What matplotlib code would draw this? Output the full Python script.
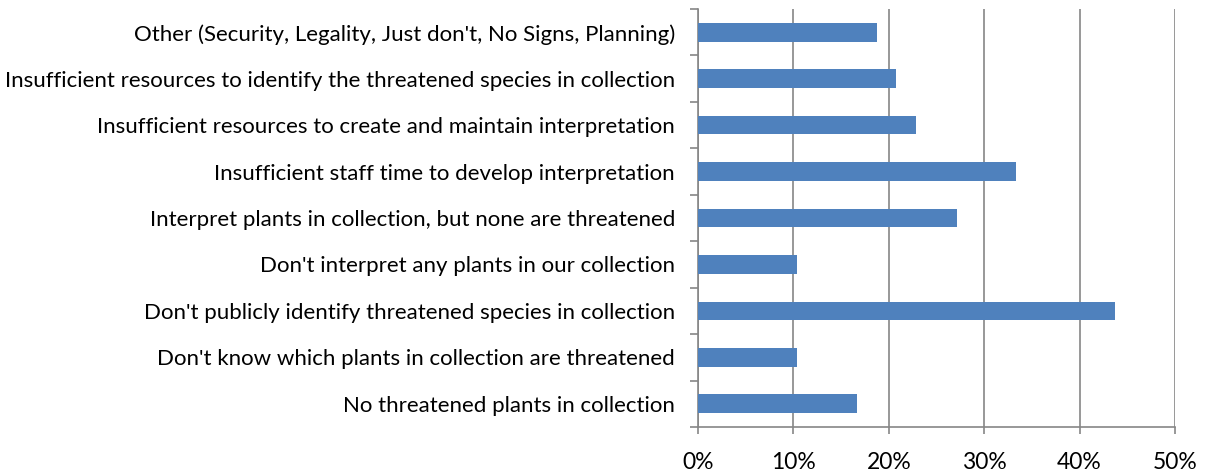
import matplotlib.pyplot as plt
import numpy as np
from matplotlib.ticker import FixedLocator, PercentFormatter

categories = [
    "No threatened plants in collection",
    "Don't know which plants in collection are threatened",
    "Don't publicly identify threatened species in collection",
    "Don't interpret any plants in our collection",
    "Interpret plants in collection, but none are threatened",
    "Insufficient staff time to develop interpretation",
    "Insufficient resources to create and maintain interpretation",
    "Insufficient resources to identify the threatened species in collection",
    "Other (Security, Legality, Just don't, No Signs, Planning)",
]
values = [16.7, 10.4, 43.75, 10.4, 27.1, 33.3, 22.9, 20.8, 18.75]
xticks = [0, 10, 20, 30, 40, 50]

plt.rcParams['font.family'] = ['Lato', 'DejaVu Sans']

fig = plt.figure(figsize=(12.19, 4.75), dpi=100)
ax = fig.add_axes([0.5726, 0.1011, 0.3913, 0.8799])

y = np.arange(len(categories))
ax.barh(y, values, height=0.4, color='#4F81BD', zorder=3)

ax.set_xlim(0, 50)
ax.set_ylim(-0.5, len(categories) - 0.5)
ax.set_xticks(xticks)
ax.xaxis.set_major_formatter(PercentFormatter(decimals=0))
ax.set_yticks(y)
ax.set_yticklabels(categories, fontsize=16)
ax.yaxis.set_minor_locator(FixedLocator(np.arange(-0.5, len(categories), 1)))
ax.tick_params(axis='y', which='major', length=0, pad=16.5)
ax.tick_params(axis='y', which='minor', length=6, color='#868686', width=1.2)
ax.tick_params(axis='x', length=5, color='#868686', width=1.2, labelsize=16.5, pad=13)

ax.grid(axis='x', color='#868686', linewidth=1.2, zorder=0)
for s in ['top', 'right']:
    ax.spines[s].set_visible(False)
for s in ['left', 'bottom']:
    ax.spines[s].set_color('#868686')
    ax.spines[s].set_linewidth(1.2)

fig.savefig('out.png', dpi=100)
